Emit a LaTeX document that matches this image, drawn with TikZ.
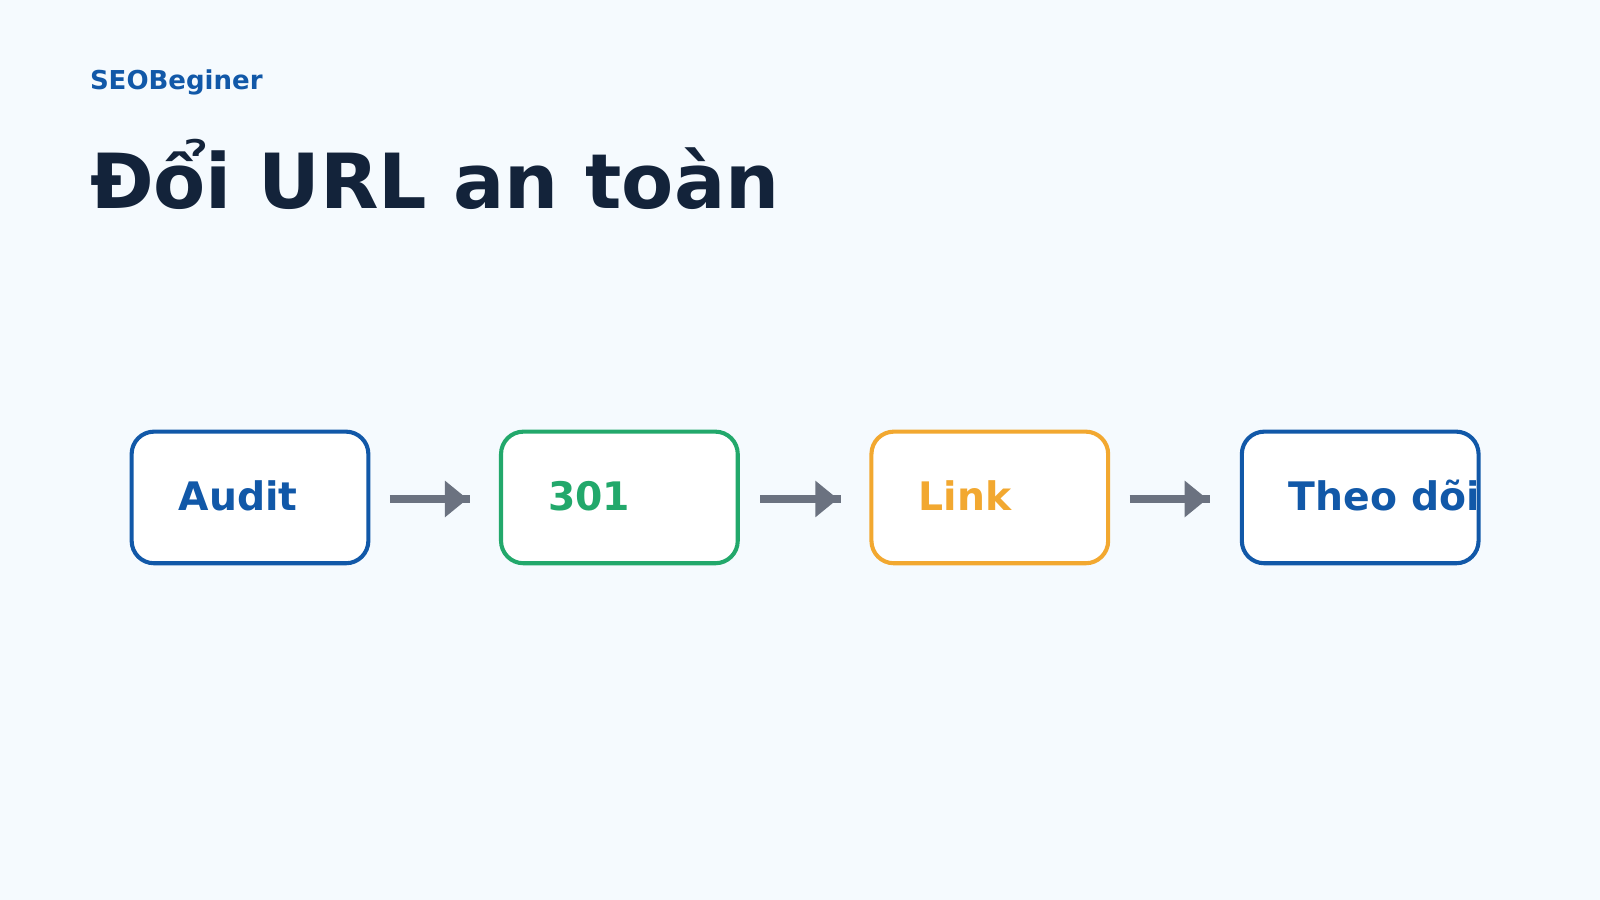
\documentclass[tikz,border=0pt]{standalone}
\usepackage{fontspec}
\setmainfont{DejaVu Sans}
\definecolor{bg}{HTML}{F5FAFE}
\definecolor{cblue}{HTML}{1158A8}
\definecolor{cgreen}{HTML}{22A86B}
\definecolor{corange}{HTML}{F2A830}
\definecolor{cgrey}{HTML}{6B7280}
\definecolor{ctitle}{HTML}{13233A}
\begin{document}
\begin{tikzpicture}[x=1pt,y=-1pt,
  lbl/.style={anchor=base west,inner sep=0pt,font=\fontsize{38.5}{40}\selectfont\bfseries},
  arr/.style={cgrey,line width=7pt}]
\fill[bg] (0,0) rectangle (1568,882);
\useasboundingbox (0,0) rectangle (1568,882);
\node[anchor=base west,inner sep=0pt,text=cblue,font=\fontsize{25.5}{27}\selectfont\bfseries] (brand) at (88,88) {SEOBeginer};
\node[anchor=base west,inner sep=0pt,text=ctitle,font=\fontsize{74.5}{80}\selectfont\bfseries] (title) at (88,204) {Đổi URL an toàn};
\foreach \x/\c/\t/\n in {129/cblue/Audit/a,491/cgreen/301/b,854/corange/Link/c,1217/cblue/Theo dõi/d}{
  \fill[white,rounded corners=22pt] (\x,423) rectangle (\x+232,552);
  \begin{scope}
    \clip (\x,423) rectangle (\x+229,552);
    \node[lbl,text=\c] (\n) at (\x+46,500) {\t};
  \end{scope}
  \draw[\c,line width=4pt,rounded corners=22pt] (\x,423) rectangle (\x+232,552) coordinate (box\n);
}
\foreach \x in {382,745,1107}{
  \draw[arr] (\x,489) -- (\x+79,489);
  \fill[cgrey] (\x+54,471) -- (\x+76,489) -- (\x+54,507) -- cycle;
}
\end{tikzpicture}
\end{document}
